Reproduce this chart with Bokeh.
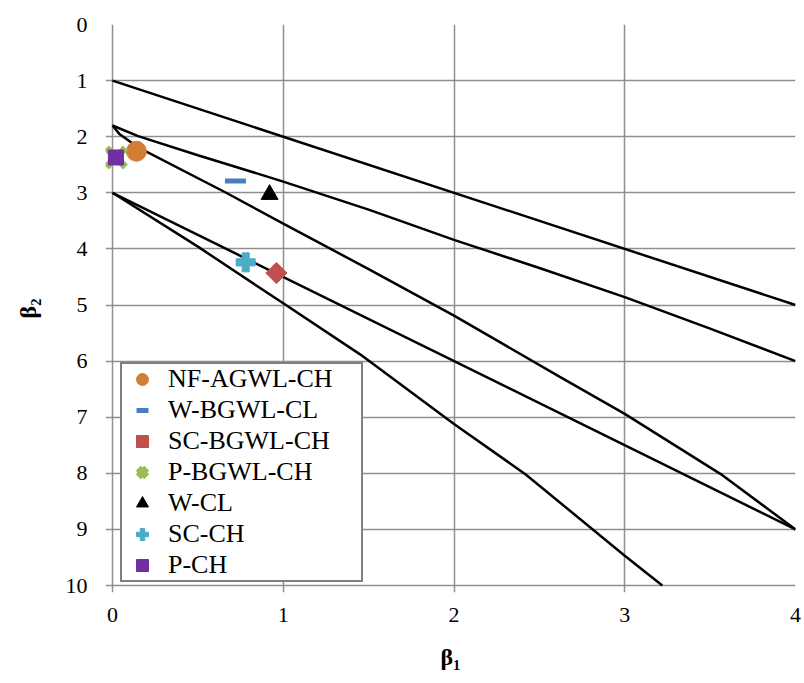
import math
from bokeh.plotting import figure
from bokeh.models import Range1d, FixedTicker, Legend, LegendItem
from bokeh.embed import file_html
from bokeh.resources import INLINE

# ---- boundary curves of the (beta1, beta2) diagram ----
limit_b1 = [0.0, 4.0]
limit_b2 = [1.0, 5.0]

j_upper_b1 = [0.0, 0.15, 0.5, 1.0, 1.5, 2.0, 2.5, 3.0, 3.5, 4.0]
j_upper_b2 = [1.8, 1.99, 2.33, 2.8, 3.3, 3.84, 4.34, 4.86, 5.42, 6.0]

j_lower_b1 = [0.0, 0.04, 0.15, 0.66, 1.0, 1.5, 2.0, 2.62, 3.0, 3.56, 4.0]
j_lower_b2 = [1.8, 1.95, 2.19, 2.99, 3.55, 4.36, 5.19, 6.28, 6.94, 8.01, 9.0]

type3_b1 = [0.0, 4.0]
type3_b2 = [3.0, 9.0]

type5_b1 = [0.0, 0.5, 1.0, 1.45, 2.0, 2.42, 3.0, 3.22]
type5_b2 = [3.0, 3.96, 4.97, 5.88, 7.12, 8.02, 9.47, 10.0]

# ---- sample points ----
sample_names = ["NF-AGWL-CH", "W-BGWL-CL", "SC-BGWL-CH", "P-BGWL-CH", "W-CL", "SC-CH", "P-CH"]
sample_b1 = [0.14, 0.72, 0.96, 0.02, 0.92, 0.78, 0.02]
sample_b2 = [2.26, 2.79, 4.43, 2.37, 3.03, 4.24, 2.37]

x_ticks = [0, 1, 2, 3, 4]
y_ticks = [0, 1, 2, 3, 4, 5, 6, 7, 8, 9, 10]

# ---- styles (kept apart from the data) ----
styles = [
    dict(marker="circle", size=20, fill_color="#D27D36", line_color="#D27D36", line_width=1, angle=0),
    dict(marker="dash", size=21, fill_color="#4A7EBB", line_color="#4A7EBB", line_width=5, angle=0),
    dict(marker="square", size=15, fill_color="#C0504D", line_color="#C0504D", line_width=1, angle=math.pi / 4),
    dict(marker="x", size=27, fill_color="#9BBB59", line_color="#9BBB59", line_width=7, angle=0),
    dict(marker="triangle", size=17, fill_color="black", line_color="black", line_width=1, angle=0),
    dict(marker="plus", size=19, fill_color="#4BACC6", line_color="#4BACC6", line_width=1, angle=0),
    dict(marker="square", size=15, fill_color="#7030A0", line_color="#7030A0", line_width=1, angle=0),
]

FONT = "'Liberation Serif'"
GRID = "#8f8f8f"
PX_X = 170.75   # pixels per beta1 unit
PX_Y = 56.1     # pixels per beta2 unit
TICK = 7        # tick length in pixels (grid lines extended past the axes)

p = figure(
    frame_width=690, frame_height=568,
    min_border_left=105, min_border_right=9, min_border_top=24, min_border_bottom=83,
    x_range=Range1d(-TICK / PX_X, 4), y_range=Range1d(10 + TICK / PX_Y, 0),
    output_backend="svg", toolbar_location=None,
)
p.outline_line_color = None
p.background_fill_color = "white"
p.border_fill_color = "white"

for ax in (p.xaxis, p.yaxis):
    ax.axis_line_color = None
    ax.major_tick_line_color = None
    ax.major_tick_out = 0
    ax.major_tick_in = 0
    ax.minor_tick_line_color = None
    ax.major_label_text_font = FONT
    ax.major_label_text_font_size = "22px"
    ax.major_label_text_color = "black"
    ax.axis_label_text_font = FONT
    ax.axis_label_text_font_style = "bold"
    ax.axis_label_text_font_size = "24px"
    ax.axis_label_text_color = "black"

p.xaxis.ticker = FixedTicker(ticks=x_ticks)
p.yaxis.ticker = FixedTicker(ticks=y_ticks)
p.xaxis.major_label_standoff = 15
p.yaxis.major_label_standoff = 18
p.xaxis.axis_label = "β₁"
p.yaxis.axis_label = "β₂"
p.xaxis.axis_label_standoff = 19
p.yaxis.axis_label_standoff = 22

for g in (p.xgrid, p.ygrid):
    g.grid_line_color = GRID
    g.grid_line_width = 1.5
p.xgrid.ticker = FixedTicker(ticks=x_ticks)
p.ygrid.ticker = FixedTicker(ticks=y_ticks)

for xs, ys in [(limit_b1, limit_b2), (j_upper_b1, j_upper_b2), (j_lower_b1, j_lower_b2),
               (type3_b1, type3_b2), (type5_b1, type5_b2)]:
    p.line(xs, ys, line_color="black", line_width=2.5)

items = []
for name, bx, by, st in zip(sample_names, sample_b1, sample_b2, styles):
    r = p.scatter([bx], [by], **st)
    items.append(LegendItem(label=name, renderers=[r]))

legend = Legend(
    items=items, location=(15, 10),
    label_text_font=FONT, label_text_font_size="26px", label_text_color="black",
    glyph_width=40, glyph_height=30, label_standoff=6, label_width=193,
    spacing=1, padding=0, margin=0,
    border_line_color="black", border_line_width=2,
    background_fill_color="white", background_fill_alpha=1.0,
)
p.add_layout(legend, "center")

open("out.html", "w").write(file_html(p, INLINE))
